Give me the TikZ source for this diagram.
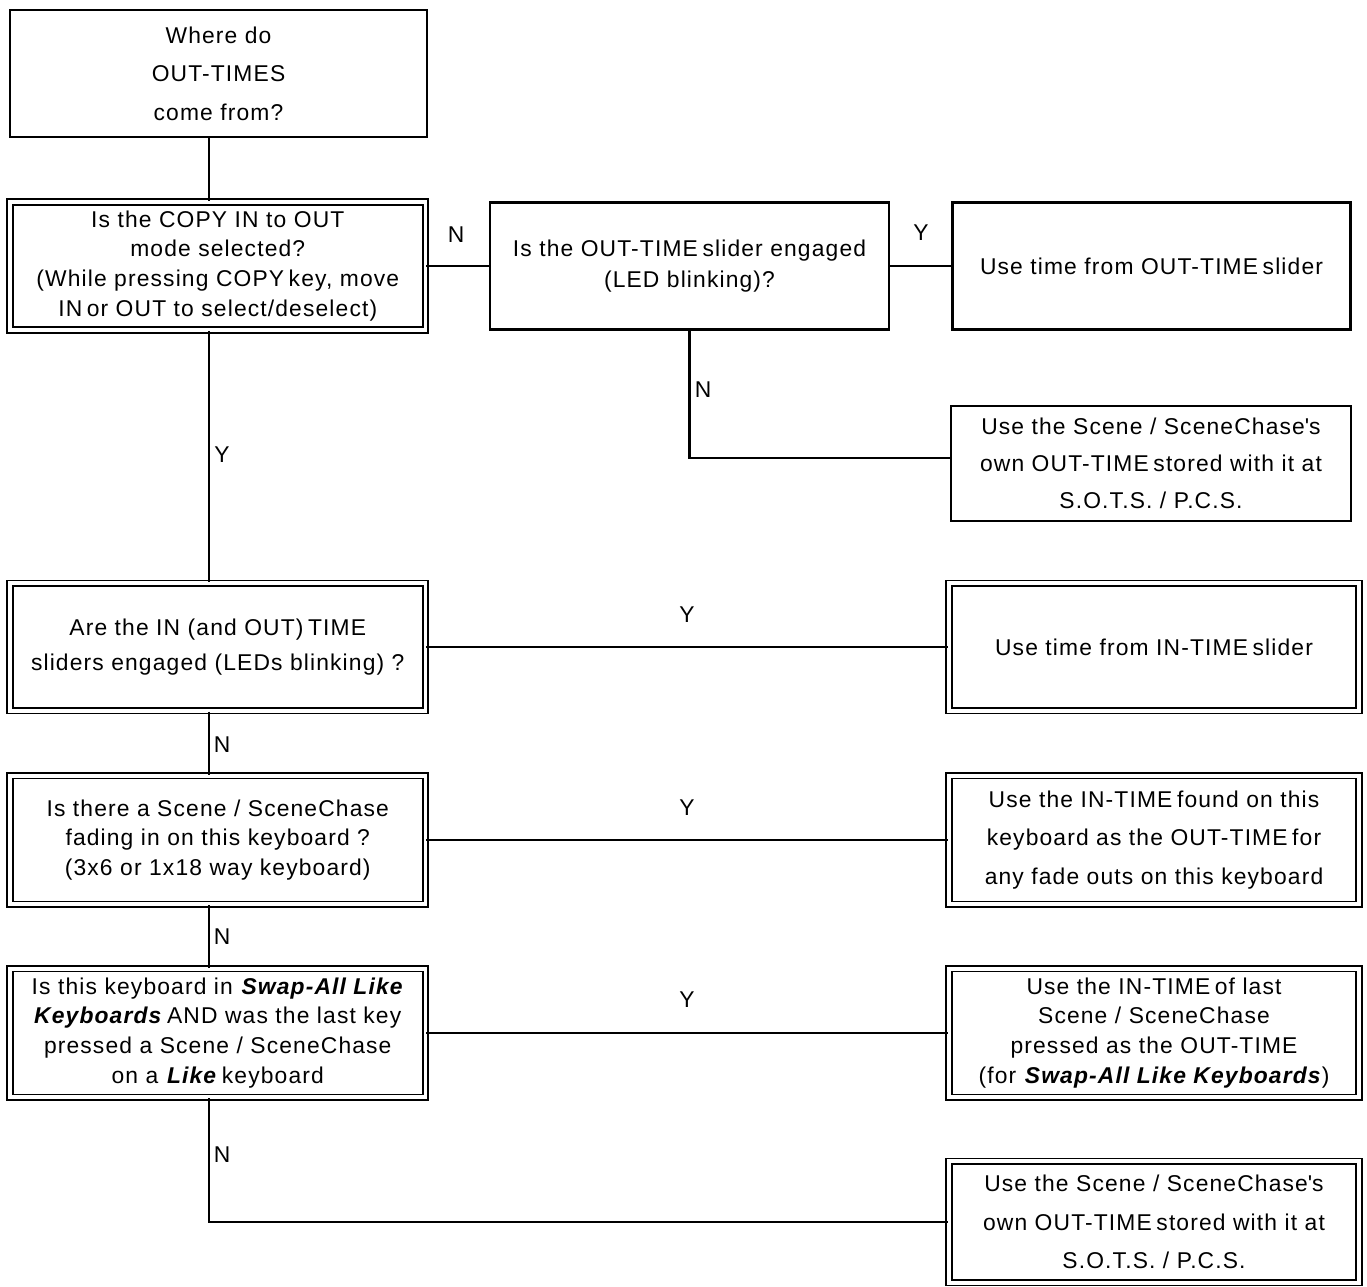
\documentclass[tikz,border=0pt]{standalone}
\usepackage{fontspec}
\setmainfont{Liberation Sans}[LetterSpace=5]
\newcommand{\tsp}{\kern0.2em}

\begin{document}
\begin{tikzpicture}[x=0.02cm, y=-0.02cm,
  qbox/.style={draw, line width=1.2pt, align=center, inner sep=0pt, font=\fontsize{13}{17}\selectfont},
  dbox/.style={draw, double, line width=1pt, double distance=2.1pt, align=center, inner sep=0pt, font=\fontsize{13}{17}\selectfont},
  yn/.style={inner sep=0pt, font=\fontsize{13}{15}\selectfont},
  link/.style={line width=1.2pt}]
\useasboundingbox (0,0) rectangle (1367,1287);

\node[qbox, minimum width=8.34cm, minimum height=2.54cm, font=\fontsize{13}{22}\selectfont] (start) at (218.5,73.5) {Where do\\OUT-TIMES\\come from?};
\node[dbox, minimum width=8.31cm, minimum height=2.56cm] (copy) at (217.75,266) {Is the COPY IN to OUT\\mode selected?\\(While pressing COPY\tsp key, move\\IN\tsp or OUT to select/deselect)};
\node[qbox, minimum width=7.98cm, minimum height=2.54cm, font=\fontsize{13}{18}\selectfont] (slider) at (689.5,266) {Is the OUT-TIME\tsp slider engaged\\(LED blinking)?};
\node[qbox, minimum width=7.96cm, minimum height=2.54cm] (useout) at (1151.5,266) {Use time from OUT-TIME\tsp slider};
\node[qbox, minimum width=8cm, minimum height=2.3cm, font=\fontsize{13}{21}\selectfont] (ownA) at (1151,463.5) {Use the Scene / SceneChase\textquotesingle s\\own OUT-TIME\tsp stored with it at\\S.O.T.S. / P.C.S.};

\node[dbox, minimum width=8.31cm, minimum height=2.55cm, font=\fontsize{13}{20}\selectfont] (arein) at (217.75,647) {Are the IN (and OUT)\tsp TIME\\sliders engaged (LEDs blinking) ?};
\node[dbox, minimum width=8.2cm, minimum height=2.55cm] (inslider) at (1154,647) {Use time from IN-TIME\tsp slider};

\node[dbox, minimum width=8.31cm, minimum height=2.57cm] (fading) at (217.75,840) {Is there a Scene / SceneChase\\fading in on this keyboard ?\\(3x6 or 1x18 way keyboard)};
\node[dbox, minimum width=8.2cm, minimum height=2.57cm, font=\fontsize{13}{22}\selectfont] (found) at (1154,840) {Use the IN-TIME\tsp found on this\\keyboard as the OUT-TIME\tsp for\\any fade outs on this keyboard};

\node[dbox, minimum width=8.31cm, minimum height=2.57cm] (swap) at (217.75,1033) {Is this keyboard in \textbf{\textit{Swap-All Like}}\\\textbf{\textit{Keyboards}}\tsp AND was the last key\\pressed a Scene / SceneChase\\on a \textbf{\textit{Like}}\tsp keyboard};
\node[dbox, minimum width=8.2cm, minimum height=2.57cm] (lastin) at (1154,1033) {Use the IN-TIME\tsp of last\\Scene / SceneChase\\pressed as the OUT-TIME\\(for \textbf{\textit{Swap-All Like Keyboards}})};

\node[dbox, minimum width=8.2cm, minimum height=2.43cm, font=\fontsize{13}{22}\selectfont] (ownB) at (1154,1222) {Use the Scene / SceneChase\textquotesingle s\\own OUT-TIME\tsp stored with it at\\S.O.T.S. / P.C.S.};

\coordinate (spine) at (209,0);
\coordinate (nbend) at (689.5,458);

\draw[link] (start.south -| spine) -- (copy.north -| spine);
\draw[link] (copy.east) -- (slider.west);
\draw[link] (slider.east) -- (useout.west);
\draw[link] (slider.south) -- (nbend) -- (nbend -| ownA.west);
\draw[link] (copy.south -| spine) -- (arein.north -| spine);
\draw[link] (arein.east) -- (inslider.west);
\draw[link] (arein.south -| spine) -- (fading.north -| spine);
\draw[link] (fading.east) -- (found.west);
\draw[link] (fading.south -| spine) -- (swap.north -| spine);
\draw[link] (swap.east) -- (lastin.west);
\draw[link] (swap.south -| spine) |- (ownB.west);

\node[yn] (nSlider) at (456,235) {N};
\node[yn] (yUseout) at (921,233) {Y};
\node[yn] (nOwnA) at (703,390) {N};
\node[yn] (yArein) at (222,455) {Y};
\node[yn] (yInslider) at (687,615) {Y};
\node[yn] (nFading) at (222,745) {N};
\node[yn] (yFound) at (687,808) {Y};
\node[yn] (nSwap) at (222,937) {N};
\node[yn] (yLastin) at (687,1000) {Y};
\node[yn] (nOwnB) at (222,1155) {N};
\end{tikzpicture}
\end{document}
